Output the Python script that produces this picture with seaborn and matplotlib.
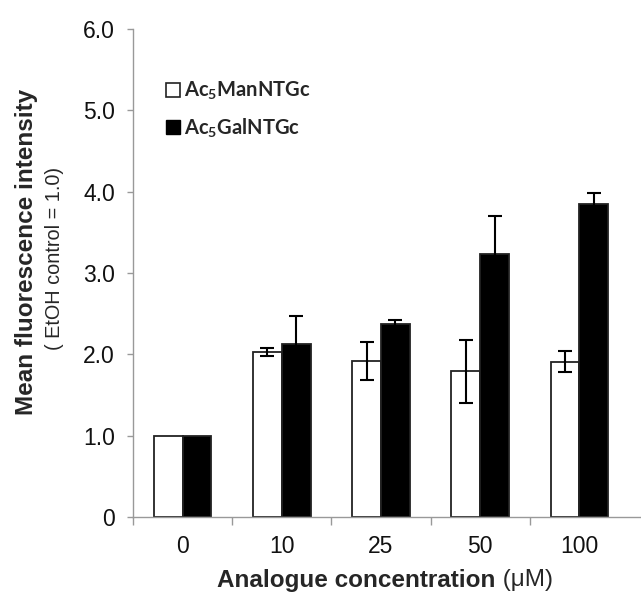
import numpy as np
import pandas as pd
import matplotlib
matplotlib.use("Agg")
import matplotlib.pyplot as plt
from matplotlib.patches import Patch
import seaborn as sns

# Data
concentrations = ["0", "10", "25", "50", "100"]
series_names = ["Ac$_5$ManNTGc", "Ac$_5$GalNTGc"]
man_values = [1.00, 2.03, 1.92, 1.79, 1.91]
man_errors = [0.00, 0.05, 0.23, 0.39, 0.13]
gal_values = [0.99, 2.13, 2.37, 3.23, 3.85]
gal_errors = [0.00, 0.34, 0.05, 0.47, 0.13]
y_ticks = [0, 1, 2, 3, 4, 5, 6]
y_tick_labels = ["0", "1.0", "2.0", "3.0", "4.0", "5.0", "6.0"]

df = pd.DataFrame({
    "conc": concentrations * 2,
    "series": [series_names[0]] * 5 + [series_names[1]] * 5,
    "value": man_values + gal_values,
    "err": man_errors + gal_errors,
})

sns.set_style("white")
plt.rcParams["font.family"] = ["Liberation Sans", "DejaVu Sans"]
plt.rcParams["mathtext.fontset"] = "custom"
plt.rcParams["mathtext.rm"] = "Lato:bold"
plt.rcParams["mathtext.it"] = "Lato:bold"
plt.rcParams["mathtext.bf"] = "Lato:bold"

fig = plt.figure(figsize=(6.41, 5.94), dpi=100)
ax = fig.add_axes([133 / 641, 77 / 594, 1 - 133 / 641, (517 - 29) / 594])

sns.barplot(data=df, x="conc", y="value", hue="series", order=concentrations,
            hue_order=series_names, palette=["white", "black"], width=0.58,
            edgecolor="#222222", linewidth=1.3, errorbar=None, legend=False, ax=ax)

# error bars on each bar, placed from the patches seaborn drew
bars = [p for p in ax.patches if p.get_height() > 0]
errs = man_errors + gal_errors
for bar, e in zip(bars, errs):
    if e <= 0:
        continue
    xc = bar.get_x() + bar.get_width() / 2
    ax.errorbar(xc, bar.get_height(), yerr=e, color="black", capsize=5,
                elinewidth=1.5, capthick=1.5, fmt="none", zorder=5)

ax.set_xlim(-0.5, 4.62)
ax.set_ylim(0, 6.0)
ax.set_yticks(y_ticks)
ax.set_yticklabels(y_tick_labels, fontsize=16.5, color="#111111")
ax.set_xticks(range(len(concentrations)))
ax.set_xticklabels(concentrations, fontsize=16.5, color="#111111")
ax.set_xticks([i - 0.5 for i in range(len(concentrations))], minor=True)
ax.tick_params(axis="x", which="major", length=0, pad=13)
ax.tick_params(axis="x", which="minor", length=6, width=1, color="#999999", direction="out")
ax.tick_params(axis="y", length=4, width=1, color="#999999", direction="out", pad=9)
ax.yaxis.set_ticks_position("left")
ax.xaxis.set_ticks_position("bottom")
ax.set_xlabel("")
ax.set_ylabel("")
for side in ["top", "right"]:
    ax.spines[side].set_visible(False)
for side in ["left", "bottom"]:
    ax.spines[side].set_color("#999999")
    ax.spines[side].set_linewidth(1)

handles = [Patch(facecolor="white", edgecolor="#222222", linewidth=1.2),
           Patch(facecolor="black", edgecolor="black")]
ax.legend(handles, series_names, loc="upper left", bbox_to_anchor=(166 / 641, 1 - 80 / 594),
          bbox_transform=fig.transFigure, frameon=False,
          prop={"family": "Lato", "weight": "bold", "size": 14.5},
          handlelength=0.7, handleheight=0.7, handletextpad=0.2, labelspacing=0.7,
          borderaxespad=0, borderpad=0)

# axis titles
fig.text(27 / 641, 1 - 252 / 594, "Mean fluorescence intensity", rotation=90,
         ha="center", va="center", fontsize=17.5, fontweight="bold")
fig.text(55 / 641, 1 - 258 / 594, "( EtOH control = 1.0)", rotation=90,
         ha="center", va="center", fontsize=14.3)
fig.text(495 / 641, 1 - 580 / 594, "Analogue concentration", ha="right", va="center",
         fontsize=17.5, fontweight="bold")
fig.text(496 / 641, 1 - 580 / 594, " (\u03bcM)", ha="left", va="center", fontsize=17.5)

fig.savefig("out.png", dpi=100)
